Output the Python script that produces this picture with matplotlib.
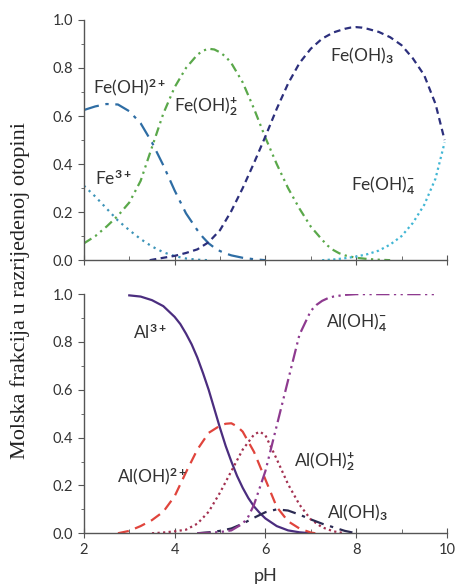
import matplotlib
matplotlib.use('Agg')
import matplotlib.pyplot as plt
from matplotlib.ticker import MultipleLocator

plt.rcParams['font.family'] = ['Lato', 'DejaVu Sans']
plt.rcParams['mathtext.fontset'] = 'custom'
plt.rcParams['mathtext.rm'] = 'Lato'
plt.rcParams['mathtext.it'] = 'Lato'
plt.rcParams['mathtext.bf'] = 'Lato:bold'

# --- Fe species (top panel) ---
ph_fe3 = [2.0, 2.25, 2.5, 2.75, 3.0, 3.25, 3.5, 3.75, 4.0, 4.25, 4.5, 4.75]
fe3 = [0.31, 0.265, 0.215, 0.165, 0.125, 0.088, 0.057, 0.033, 0.017, 0.007, 0.002, 0.0]

ph_feoh = [2.0, 2.25, 2.5, 2.75, 3.0, 3.25, 3.5, 3.75, 4.0, 4.25, 4.5, 4.625,
           4.75, 4.875, 5.0, 5.125, 5.25, 5.5, 5.75, 6.0]
feoh = [0.625, 0.64, 0.65, 0.648, 0.62, 0.57, 0.49, 0.395, 0.29, 0.195, 0.125,
        0.095, 0.07, 0.052, 0.038, 0.028, 0.02, 0.01, 0.004, 0.0]

ph_feoh2 = [2.0, 2.25, 2.5, 2.75, 3.0, 3.25, 3.5, 3.75, 4.0, 4.25, 4.5, 4.625,
            4.75, 4.875, 5.0, 5.125, 5.25, 5.5, 5.75, 6.0, 6.25, 6.5, 6.75,
            7.0, 7.25, 7.375, 7.5, 7.625, 7.75, 8.0, 8.25, 8.5, 8.75]
feoh2 = [0.07, 0.1, 0.14, 0.185, 0.24, 0.33, 0.47, 0.61, 0.72, 0.8, 0.855,
         0.872, 0.88, 0.877, 0.865, 0.847, 0.82, 0.74, 0.63, 0.51, 0.40, 0.30,
         0.215, 0.14, 0.085, 0.06, 0.042, 0.029, 0.02, 0.01, 0.005, 0.002, 0.0]

ph_feoh3 = [3.45, 3.75, 4.0, 4.25, 4.5, 4.75, 5.0, 5.25, 5.5, 5.75, 6.0, 6.25,
            6.5, 6.75, 7.0, 7.25, 7.5, 7.75, 7.875, 8.0, 8.125, 8.25, 8.5,
            8.75, 9.0, 9.25, 9.5, 9.75, 9.95]
feoh3 = [0.0, 0.01, 0.018, 0.03, 0.045, 0.075, 0.125, 0.205, 0.30, 0.405,
         0.515, 0.63, 0.735, 0.82, 0.88, 0.922, 0.948, 0.963, 0.968, 0.97,
         0.968, 0.963, 0.95, 0.928, 0.895, 0.84, 0.77, 0.65, 0.50]

ph_feoh4 = [7.25, 7.5, 7.75, 8.0, 8.25, 8.5, 8.75, 9.0, 9.25, 9.5, 9.75, 9.95]
feoh4 = [0.0, 0.003, 0.008, 0.015, 0.025, 0.04, 0.065, 0.10, 0.155, 0.23,
         0.34, 0.49]

# --- Al species (bottom panel) ---
ph_al3 = [3.0, 3.25, 3.5, 3.75, 4.0, 4.125, 4.25, 4.375, 4.5, 4.625, 4.75,
          4.875, 5.0, 5.125, 5.25, 5.375, 5.5, 5.625, 5.75, 5.875, 6.0, 6.25,
          6.5, 6.75, 7.0]
al3 = [0.995, 0.99, 0.975, 0.95, 0.905, 0.875, 0.835, 0.79, 0.735, 0.67, 0.6,
       0.52, 0.44, 0.365, 0.3, 0.24, 0.19, 0.147, 0.112, 0.085, 0.062, 0.03,
       0.012, 0.004, 0.0]

ph_aloh = [2.75, 3.0, 3.25, 3.5, 3.75, 4.0, 4.25, 4.5, 4.75, 5.0, 5.125,
           5.25, 5.375, 5.5, 5.75, 6.0, 6.25, 6.5, 6.75, 7.0, 7.1]
aloh = [0.0, 0.01, 0.03, 0.055, 0.09, 0.155, 0.255, 0.35, 0.42, 0.45, 0.458,
        0.46, 0.447, 0.425, 0.34, 0.225, 0.11, 0.05, 0.02, 0.003, 0.0]

ph_aloh2 = [3.5, 3.75, 4.0, 4.25, 4.5, 4.75, 5.0, 5.25, 5.5, 5.75, 5.875, 6.0,
            6.25, 6.5, 6.75, 7.0, 7.25, 7.5, 7.75]
aloh2 = [0.0, 0.003, 0.008, 0.015, 0.04, 0.09, 0.17, 0.26, 0.35, 0.413, 0.425,
         0.41, 0.31, 0.205, 0.12, 0.058, 0.025, 0.008, 0.0]

ph_aloh3 = [4.5, 4.75, 5.0, 5.25, 5.5, 5.75, 6.0, 6.25, 6.5, 6.75, 7.0, 7.25,
            7.5, 7.75, 8.0]
aloh3 = [0.0, 0.004, 0.01, 0.02, 0.04, 0.065, 0.088, 0.10, 0.095, 0.078,
         0.058, 0.04, 0.025, 0.01, 0.0]

ph_aloh4 = [4.5, 4.75, 5.0, 5.25, 5.5, 5.625, 5.75, 6.0, 6.25, 6.5, 6.75, 7.0,
            7.125, 7.25, 7.375, 7.5, 7.75, 8.0, 9.75]
aloh4 = [0.0, 0.002, 0.005, 0.012, 0.04, 0.07, 0.12, 0.26, 0.45, 0.64, 0.83,
         0.93, 0.955, 0.972, 0.983, 0.99, 0.997, 1.0, 1.0]

txt = '#333333'
fig = plt.figure(figsize=(4.56, 5.86), dpi=100)
ax1 = fig.add_axes([0.184, 0.556, 0.796, 0.41])
ax2 = fig.add_axes([0.184, 0.090, 0.796, 0.408])

lw = 1.6
ax1.plot(ph_fe3, fe3, color='#3d94b8', lw=lw, ls=(0, (1, 2)))
ax1.plot(ph_feoh, feoh, color='#2e6da4', lw=lw, ls=(0, (7, 3, 1.5, 3)))
ax1.plot(ph_feoh2, feoh2, color='#5aa84a', lw=lw, ls=(0, (4, 2, 1, 2, 1, 2)))
ax1.plot(ph_feoh3, feoh3, color='#2c2f7c', lw=lw, ls=(0, (3, 2)))
ax1.plot(ph_feoh4, feoh4, color='#41b6d4', lw=lw, ls=(0, (1, 1.5)))

ax2.plot(ph_al3, al3, color='#4b2d7f', lw=lw)
ax2.plot(ph_aloh, aloh, color='#e0443c', lw=lw, ls=(0, (5, 3)))
ax2.plot(ph_aloh2, aloh2, color='#a33050', lw=lw, ls=(0, (1, 1.5)))
ax2.plot(ph_aloh3, aloh3, color='#2b2a52', lw=lw, ls=(0, (6, 3, 1.5, 3)))
ax2.plot(ph_aloh4, aloh4, color='#8e3a8f', lw=lw, ls=(0, (6, 2, 1, 2, 1, 2)))

fs = 12.5
ax1.text(2.2, 0.72, r'Fe(OH)$^{\mathbf{2+}}$', fontsize=fs, color=txt, va='center')
ax1.text(2.24, 0.34, r'Fe$^{\mathbf{3+}}$', fontsize=fs, color=txt, va='center')
ax1.text(3.99, 0.64, r'Fe(OH)$_{\mathbf{2}}^{\mathbf{+}}$', fontsize=fs, color=txt, va='center')
ax1.text(7.42, 0.85, r'Fe(OH)$_{\mathbf{3}}$', fontsize=fs, color=txt, va='center')
ax1.text(7.89, 0.31, r'Fe(OH)$_{\mathbf{4}}^{\mathbf{-}}$', fontsize=fs, color=txt, va='center')

ax2.text(3.08, 0.84, r'Al$^{\mathbf{3+}}$', fontsize=fs, color=txt, va='center')
ax2.text(2.72, 0.235, r'Al(OH)$^{\mathbf{2+}}$', fontsize=fs, color=txt, va='center')
ax2.text(7.34, 0.88, r'Al(OH)$_{\mathbf{4}}^{\mathbf{-}}$', fontsize=fs, color=txt, va='center')
ax2.text(6.64, 0.30, r'Al(OH)$_{\mathbf{2}}^{\mathbf{+}}$', fontsize=fs, color=txt, va='center')
ax2.text(7.36, 0.085, r'Al(OH)$_{\mathbf{3}}$', fontsize=fs, color=txt, va='center')

for ax in (ax1, ax2):
    ax.set_xlim(2, 10)
    ax.set_ylim(0, 1.0)
    ax.xaxis.set_major_locator(MultipleLocator(2))
    ax.xaxis.set_minor_locator(MultipleLocator(1))
    ax.yaxis.set_major_locator(MultipleLocator(0.2))
    ax.yaxis.set_minor_locator(MultipleLocator(0.1))
    for s in ('top', 'right'):
        ax.spines[s].set_visible(False)
    for s in ('left', 'bottom'):
        ax.spines[s].set_color('#555555')
        ax.spines[s].set_linewidth(1.0)
    ax.tick_params(axis='x', which='major', direction='inout', length=7,
                   color='#555555', labelsize=10.5, labelcolor=txt)
    ax.tick_params(axis='x', which='minor', direction='in', length=3,
                   color='#555555')
    ax.tick_params(axis='y', which='major', direction='out', length=4,
                   color='#555555', labelsize=10.5, labelcolor=txt)
    ax.tick_params(axis='y', which='minor', direction='out', length=2.5,
                   color='#555555')
    ax.set_yticks([0, 0.2, 0.4, 0.6, 0.8, 1.0])
    ax.set_yticklabels(['0.0', '0.2', '0.4', '0.6', '0.8', '1.0'])

ax1.tick_params(axis='x', labelbottom=False)
ax2.set_xlabel('pH', fontsize=13, color=txt, labelpad=8)

fig.text(0.045, 0.505, 'Molska frakcija u razrijedenoj otopini', rotation=90,
         va='center', ha='center', fontsize=16, color='#222222',
         family='Liberation Serif')

fig.savefig('out.png', dpi=100)
